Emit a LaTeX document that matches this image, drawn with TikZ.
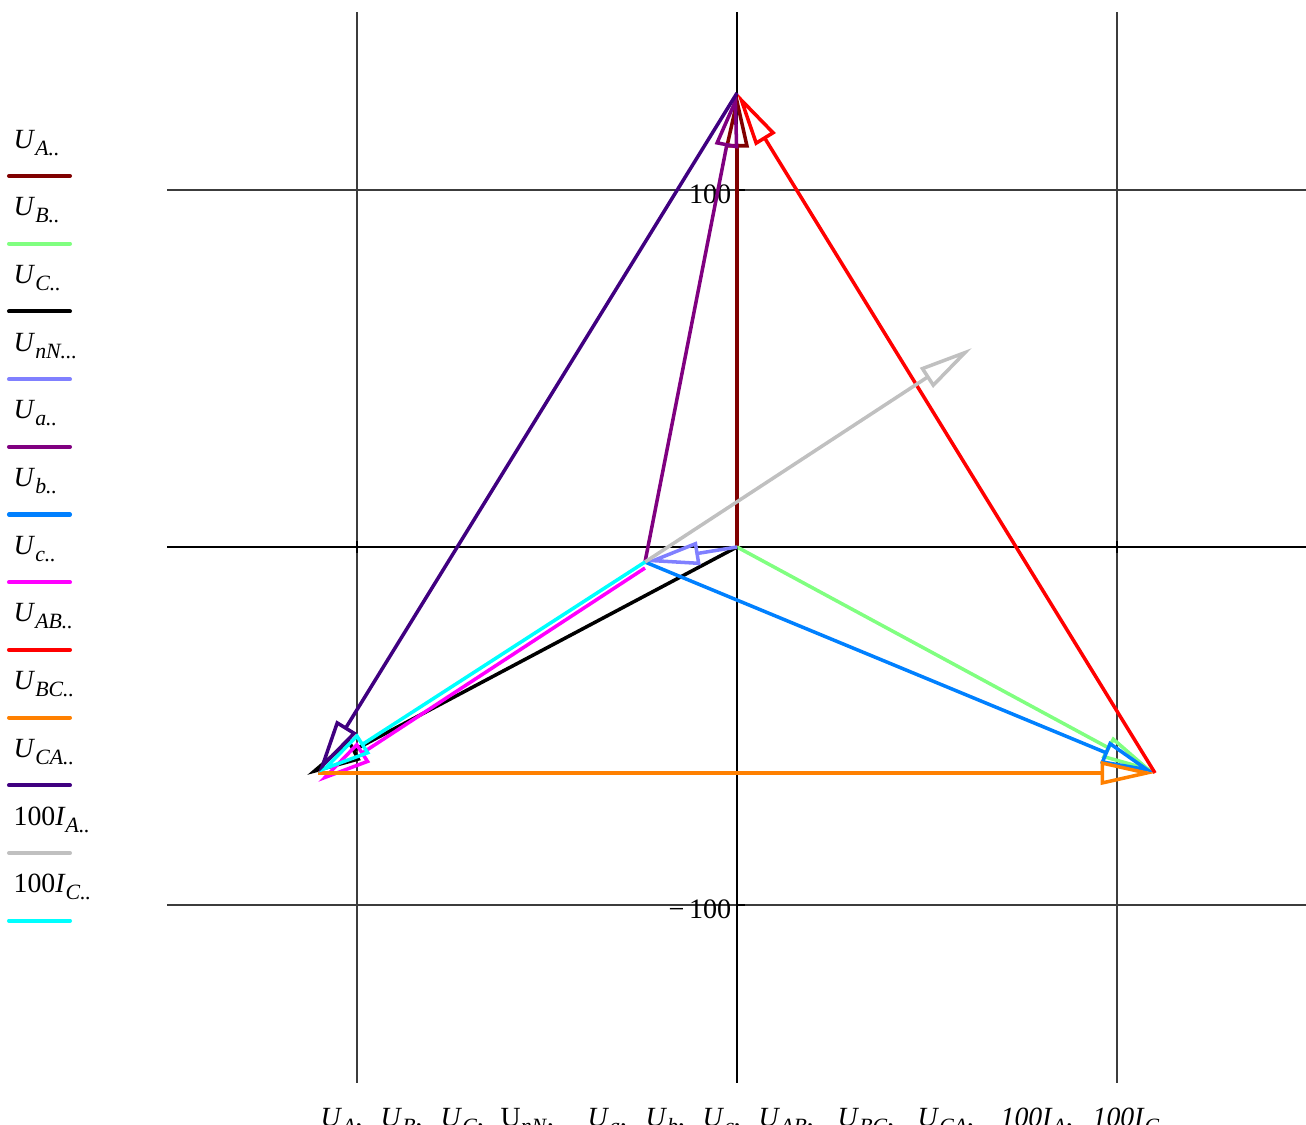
\documentclass[tikz,border=0pt]{standalone}
\usepackage{fontspec}
\setmainfont{Liberation Serif}
\usepackage{tikz}
\usetikzlibrary{arrows.meta}
\definecolor{cUA}{RGB}{128,0,0}
\definecolor{cUB}{RGB}{128,255,128}
\definecolor{cUC}{RGB}{0,0,0}
\definecolor{cUnN}{RGB}{128,128,255}
\definecolor{cUa}{RGB}{128,0,128}
\definecolor{cUb}{RGB}{0,128,255}
\definecolor{cUc}{RGB}{255,0,255}
\definecolor{cUAB}{RGB}{255,0,0}
\definecolor{cUBC}{RGB}{255,128,0}
\definecolor{cUCA}{RGB}{64,0,128}
\definecolor{cIA}{RGB}{192,192,192}
\definecolor{cIC}{RGB}{0,255,255}
\definecolor{gridgray}{RGB}{60,60,60}
\newcommand{\subtxt}[1]{\raisebox{-2pt}{\fontsize{6.2}{7}\selectfont\textit{#1}}}
\newcommand{\vlab}[1]{\textit{U}\subtxt{#1}}
\newcommand{\ilab}[1]{100\textit{I}\subtxt{#1}}
\tikzset{
  vec/.style={line width=1pt, line join=miter,
    -{Triangle[open, length=15.5pt, width=6.6pt]}},
  gridline/.style={line width=0.3pt, color=gridgray},
  axisline/.style={line width=0.6pt, color=black},
  legline/.style={line width=1.15pt, line cap=round},
  leglabel/.style={anchor=base west, inner sep=0pt, font=\fontsize{7.9}{9}\selectfont},
  ticklabel/.style={anchor=base east, inner sep=0pt, font=\fontsize{8}{9}\selectfont}
}

\begin{document}
\begin{tikzpicture}[x=0.01cm, y=-0.01cm]
  \useasboundingbox (0,0) rectangle (1306,1124);
  \clip (0,0) rectangle (1306,1124);
  % ── grid and axes ────────────────────────────────────────────────────────
  \draw[gridline] (167,190) -- (1306,190);
  \draw[gridline] (167,905) -- (1306,905);
  \draw[gridline] (357,12) -- (357,1083);
  \draw[gridline] (1117,12) -- (1117,1083);
  \draw[axisline] (167,547) -- (1306,547);
  \draw[axisline] (737,12) -- (737,1083);
  \draw[axisline] (357,541) -- (357,553);
  \draw[axisline] (1117,541) -- (1117,553);
  \draw[axisline] (737,190) -- (745,190);
  \draw[axisline] (737,905) -- (745,905);
  \node[ticklabel] (yhi) at (732,203) {100};
  \node[ticklabel] (ylo) at (732,918) {−\,100};
  % ── phasor points ────────────────────────────────────────────────────────
  \coordinate (O) at (737,547);
  \coordinate (A) at (737,93);
  \coordinate (B) at (1155,773);
  \coordinate (C) at (307,775);
  \coordinate (n) at (645,562);
  \coordinate (nc) at (645,568);
  \coordinate (Cc) at (318,782);
  \coordinate (Ca) at (318,773);
  \coordinate (Ia) at (972,348);
  % ── phasors ──────────────────────────────────────────────────────────────
  \draw[vec, draw=cUA] (O) -- (A);
  \draw[vec, draw=cUB] (O) -- (B);
  \draw[vec, draw=cUC] (O) -- (C);
  \draw[vec, draw=cUnN] (O) -- (n);
  \draw[vec, draw=cUa] (n) -- (A);
  \draw[vec, draw=cUb] (n) -- (B);
  \draw[vec, draw=cUc] (nc) -- (Cc);
  \draw[vec, draw=cUAB] (B) -- (A);
  \draw[vec, draw=cUBC] (Ca) -- (B);
  \draw[vec, draw=cUCA] (A) -- (Ca);
  \draw[vec, draw=cIA] (n) -- (Ia);
  \draw[vec, draw=cIC] (n) -- (Ca);
  % ── legend ───────────────────────────────────────────────────────────────
  \foreach \col/\lab [count=\i from 0] in {cUA/{\vlab{A..}}, cUB/{\vlab{B..}},
      cUC/{\vlab{C..}}, cUnN/{\vlab{nN...}}, cUa/{\vlab{a..}}, cUb/{\vlab{b..}},
      cUc/{\vlab{c..}}, cUAB/{\vlab{AB..}}, cUBC/{\vlab{BC..}}, cUCA/{\vlab{CA..}},
      cIA/{\ilab{A..}}, cIC/{\ilab{C..}}} {
    \draw[legline, draw=\col] ({9},{176+67.7*\i}) -- ({70},{176+67.7*\i});
    \node[leglabel] (leg\i) at ({13},{148+67.7*\i}) {\lab};
  }
  % ── axis caption (cut by the frame) ──────────────────────────────────────
  \foreach \xx/\lab [count=\j] in {320/{\vlab{A},}, 380/{\vlab{B},}, 440/{\vlab{C},},
      500/{U\subtxt{nN},}, 587/{\vlab{a},}, 645/{\vlab{b},},
      702/{\vlab{c},}, 758/{\vlab{AB},}, 837/{\vlab{BC},}, 917/{\vlab{CA},},
      1000/{\textit{100I}\subtxt{A},}, 1092/{\textit{100I}\subtxt{C}}} {
    \node[leglabel] (cap\j) at ({\xx},{1126}) {\lab};
  }
\end{tikzpicture}
\end{document}
